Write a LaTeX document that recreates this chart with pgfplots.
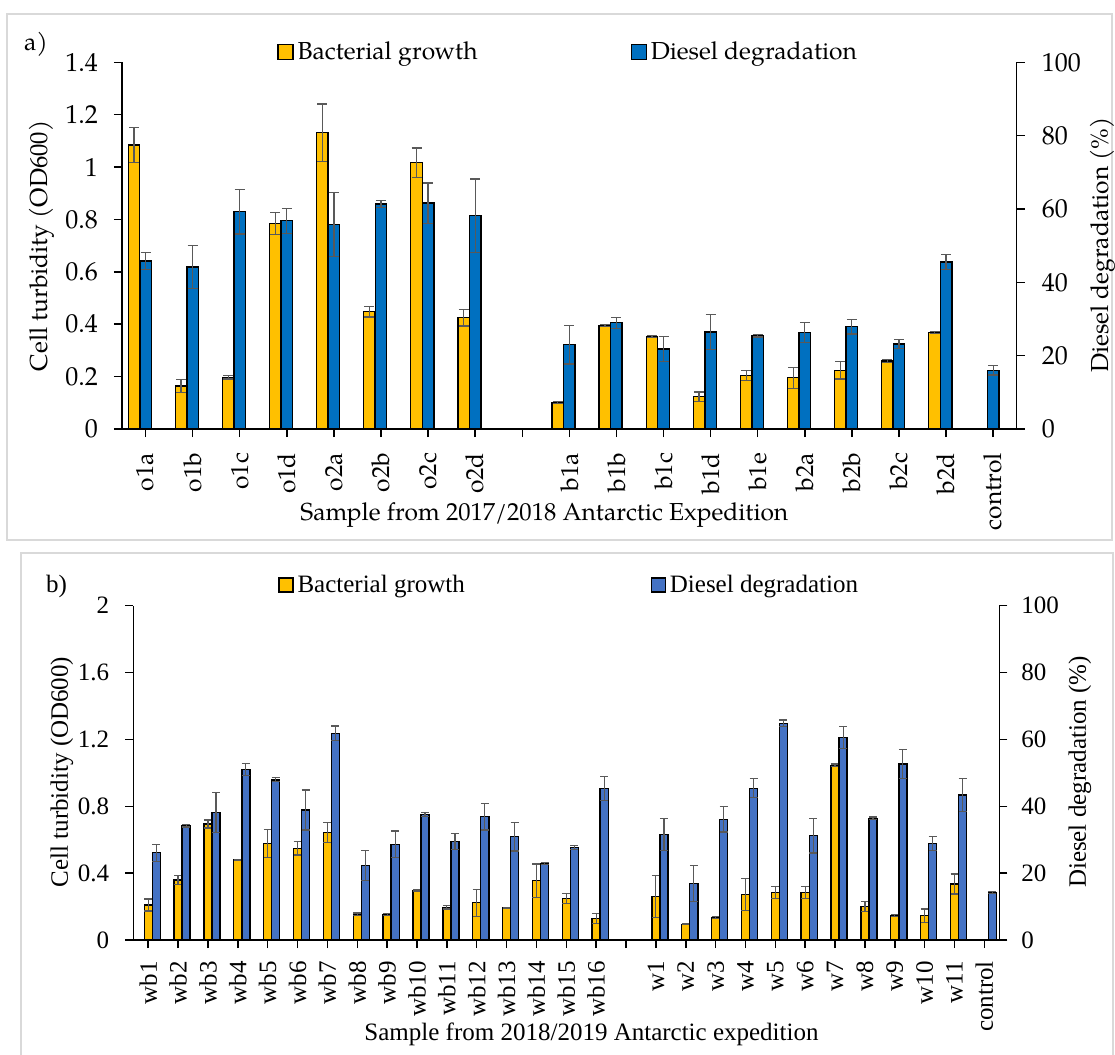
\documentclass[border=0pt]{standalone}
\usepackage{pgfplots}
\pgfplotsset{compat=1.18}
\usepackage{pgfplotstable}
\usepackage{fontspec}
\setmainfont{Liberation Serif}
\newfontfamily\pal{texgyrepagella}[Extension=.otf,UprightFont=*-regular]

\definecolor{yel}{HTML}{FFC000}
\definecolor{blueA}{HTML}{0070C0}
\definecolor{blueB}{HTML}{4472C4}
\definecolor{errgray}{HTML}{595959}
\definecolor{framegray}{HTML}{D9D9D9}

\newcommand\fa{\pal\fontsize{12.3}{14}\selectfont}
\newcommand\fat{\pal\fontsize{13}{15}\selectfont}
\newcommand\fb{\fontsize{12.5}{15}\selectfont}

% 2017/2018 expedition: cell turbidity (OD600) and diesel degradation (%)
\pgfplotstableread{
x  v      e
0  1.084  0.066
1  0.164  0.026
2  0.197  0.006
3  0.785  0.043
4  1.131  0.110
5  0.448  0.020
6  1.017  0.056
7  0.425  0.032
9  0.100  0.004
10 0.395  0.004
11 0.353  0.004
12 0.123  0.018
13 0.204  0.018
14 0.196  0.040
15 0.224  0.033
16 0.260  0.006
17 0.369  0.004
}\yelA
\pgfplotstableread{
x  v     e
0  45.8  2.4
1  44.2  5.8
2  59.3  6.1
3  56.8  3.4
4  55.8  8.7
5  61.4  0.9
6  61.6  5.5
7  58.2  10.0
9  23.0  5.3
10 29.0  1.5
11 21.8  3.4
12 26.5  4.8
13 25.4  0.3
14 26.3  2.7
15 27.9  2.0
16 23.2  1.3
17 45.5  2.0
18 16.0  1.3
}\bluA

% 2018/2019 expedition
\pgfplotstableread{
x  v      e
0  0.209  0.036
1  0.359  0.025
2  0.694  0.024
3  0.479  0.004
4  0.578  0.084
5  0.548  0.040
6  0.642  0.060
7  0.154  0.008
8  0.154  0.006
9  0.295  0.004
10 0.195  0.010
11 0.223  0.080
12 0.193  0.003
13 0.355  0.100
14 0.249  0.030
15 0.130  0.030
17 0.259  0.125
18 0.094  0.003
19 0.136  0.005
20 0.273  0.096
21 0.283  0.036
22 0.283  0.036
23 1.045  0.008
24 0.199  0.030
25 0.146  0.006
26 0.146  0.040
27 0.335  0.060
}\yelB
\pgfplotstableread{
x  v     e
0  26.1  2.5
1  34.2  0.4
2  38.1  6.0
3  51.0  1.8
4  47.9  0.6
5  38.9  6.0
6  61.8  2.2
7  22.2  4.5
8  28.6  4.0
9  37.6  0.6
10 29.4  2.4
11 36.9  4.0
12 30.9  4.3
13 22.8  0.3
14 27.6  0.6
15 45.3  3.5
17 31.6  4.8
18 16.9  5.3
19 36.1  3.8
20 45.4  2.8
21 64.8  1.0
22 31.2  5.2
23 60.5  3.3
24 36.4  0.4
25 52.7  4.4
26 28.9  2.1
27 43.4  5.0
28 14.2  0.3
}\bluB

\pgfplotsset{
  duo/.style={
    scale only axis, anchor=south west,
    axis line style={line width=0.75pt, black},
    tick style={line width=0.75pt, black},
    tick align=outside, major tick length=4pt,
    /pgf/number format/assume math mode=true,
    ybar,
    legend style={draw=none, fill=none, inner sep=0pt, anchor=west},
  },
  errs/.style={
    error bars/.cd, y dir=both, y explicit,
    error bar style={line width=0.6pt, color=errgray},
    error mark options={rotate=90, mark size=#1, line width=0.6pt, color=errgray},
  },
}

\begin{document}
\begin{tikzpicture}
\path[use as bounding box] (0pt,0pt) rectangle (557.5pt,-527.5pt);

% panel frames
\draw[framegray, line width=1pt] (3.6pt,-7pt) rectangle (556pt,-270pt);
\draw[framegray, line width=1pt] (10.4pt,-276.5pt) rectangle (556.4pt,-540pt);

% ---------------- panel a ----------------
\begin{axis}[duo,
  at={(61pt,-214.5pt)}, width=447.35pt, height=183.35pt,
  xmin=-0.5, xmax=18.5, ymin=0, ymax=1.4,
  axis x line*=bottom, axis y line*=left,
  xtick={0,...,18},
  xticklabels={o1a,o1b,o1c,o1d,o2a,o2b,o2c,o2d,{},b1a,b1b,b1c,b1d,b1e,b2a,b2b,b2c,b2d,control},
  x tick label style={yshift=-4.5pt, rotate=90, anchor=east, font=\fa},
  ytick={0,0.2,0.4,0.6,0.8,1,1.2,1.4},
  y tick label style={xshift=-4.5pt, font=\fat},
  bar width=0.244,
  legend style={at={(0.1732,1.028)}, font=\fa},
  legend image code/.code={\draw[fill=yel, draw=black, line width=0.6pt] (0pt,-3.75pt) rectangle (7.5pt,3.75pt);},
]
\addplot[fill=yel, draw=black, line width=0.7pt, errs=2.5pt]
  table[x expr=\thisrow{x}-0.245, y=v, y error=e] {\yelA};
\addlegendentry{Bacterial growth}
\end{axis}
\begin{axis}[duo,
  at={(61pt,-214.5pt)}, width=447.35pt, height=183.35pt,
  xmin=-0.5, xmax=18.5, ymin=0, ymax=100,
  axis x line=none, axis y line*=right, xtick=\empty,
  ytick={0,20,40,60,80,100},
  y tick label style={xshift=5pt, font=\fat},
  bar width=0.244,
  legend style={at={(0.568,1.028)}, font=\fa},
  legend image code/.code={\draw[fill=blueA, draw=black, line width=0.6pt] (0pt,-3.75pt) rectangle (7.5pt,3.75pt);},
]
\addplot[fill=blueA, draw=black, line width=0.7pt, errs=2.5pt]
  table[x=x, y=v, y error=e] {\bluA};
\addlegendentry{Diesel degradation}
\end{axis}

\node[font=\fa] at (18pt,-22pt) {a)};
\node[font=\fa, rotate=90] at (20.85pt,-122.9pt) {Cell turbidity (OD600)};
\node[font=\fa, rotate=90] at (551.5pt,-122.5pt) {Diesel degradation (\%)};
\node[font=\fa, anchor=base] at (272.2pt,-260pt) {Sample from 2017/2018 Antarctic Expedition};

% ---------------- panel b ----------------
\begin{axis}[duo,
  at={(66.65pt,-470pt)}, width=433pt, height=167.15pt,
  xmin=-0.5, xmax=28.5, ymin=0, ymax=2,
  axis x line*=bottom, axis y line*=left,
  xtick={0,...,28},
  xticklabels={wb1,wb2,wb3,wb4,wb5,wb6,wb7,wb8,wb9,wb10,wb11,wb12,wb13,wb14,wb15,wb16,{},w1,w2,w3,w4,w5,w6,w7,w8,w9,w10,w11,control},
  x tick label style={yshift=-3pt, rotate=90, anchor=east, font=\fb},
  ytick={0,0.4,0.8,1.2,1.6,2},
  y tick label style={xshift=-4.5pt, font=\fb},
  bar width=0.27,
  legend style={at={(0.167,1.062)}, font=\fb},
  legend image code/.code={\draw[fill=yel, draw=black, line width=0.6pt] (0pt,-3.5pt) rectangle (7pt,3.5pt);},
]
\addplot[fill=yel, draw=black, line width=0.7pt, errs=2pt]
  table[x=x, y=v, y error=e] {\yelB};
\addlegendentry{Bacterial growth}
\end{axis}
\begin{axis}[duo,
  at={(66.65pt,-470pt)}, width=433pt, height=167.15pt,
  xmin=-0.5, xmax=28.5, ymin=0, ymax=100,
  axis x line=none, axis y line*=right, xtick=\empty,
  ytick={0,20,40,60,80,100},
  y tick label style={xshift=3.5pt, font=\fb},
  bar width=0.27,
  legend style={at={(0.597,1.062)}, font=\fb},
  legend image code/.code={\draw[fill=blueB, draw=black, line width=0.6pt] (0pt,-3.5pt) rectangle (7pt,3.5pt);},
]
\addplot[fill=blueB, draw=black, line width=0.7pt, errs=2pt]
  table[x expr=\thisrow{x}+0.27, y=v, y error=e] {\bluB};
\addlegendentry{Diesel degradation}
\end{axis}

\node[font=\fb] at (28.3pt,-293pt) {b)};
\node[font=\fb, rotate=90] at (31pt,-386pt) {Cell turbidity (OD600)};
\node[font=\fb, rotate=90] at (540pt,-386pt) {Diesel degradation (\%)};
\node[font=\fb, anchor=base] at (295.75pt,-520pt) {Sample from 2018/2019 Antarctic expedition};
\end{tikzpicture}
\end{document}
